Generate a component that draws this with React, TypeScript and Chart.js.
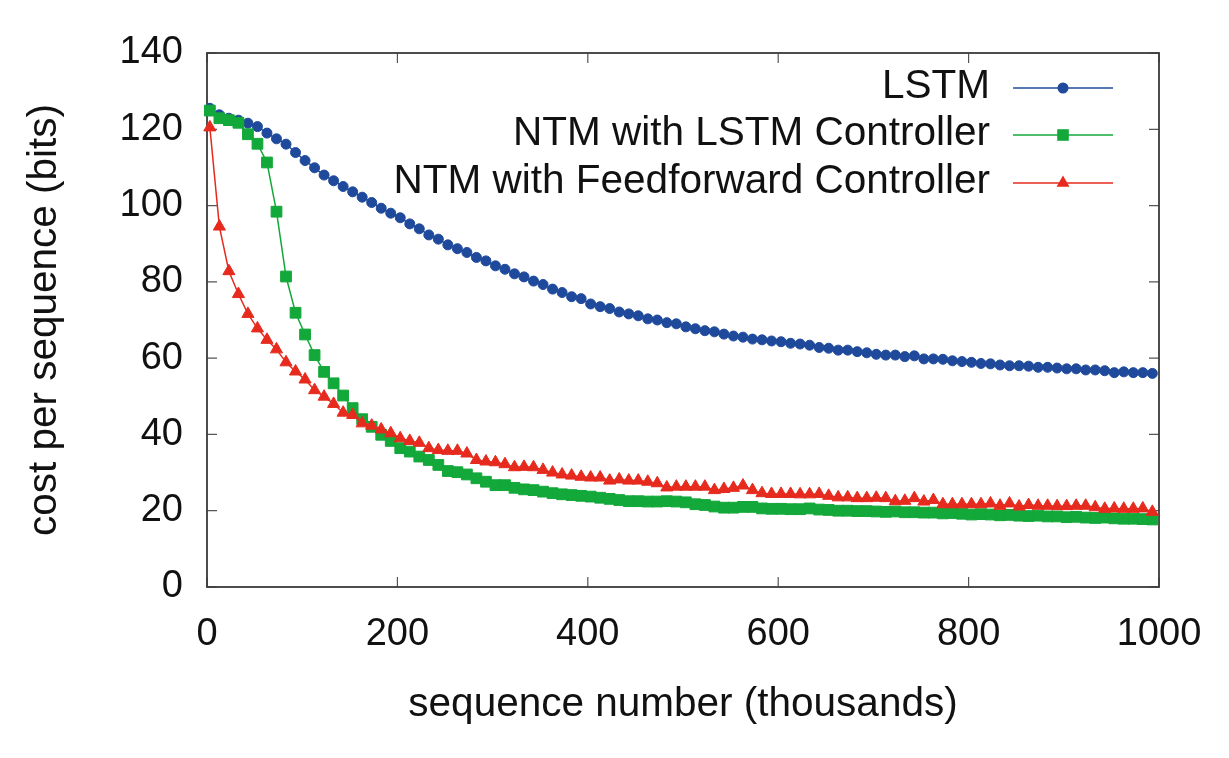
import React, { useEffect, useRef } from "react";
import { Chart, registerables } from "chart.js";

Chart.register(...registerables);

// sequence number (thousands) at which each point was sampled
const SEQ_THOUSANDS = [
  3, 13, 23, 33, 43, 53, 63, 73, 83, 93,
  103, 113, 123, 133, 143, 153, 163, 173, 183, 193,
  203, 213, 223, 233, 243, 253, 263, 273, 283, 293,
  303, 313, 323, 333, 343, 353, 363, 373, 383, 393,
  403, 413, 423, 433, 443, 453, 463, 473, 483, 493,
  503, 513, 523, 533, 543, 553, 563, 573, 583, 593,
  603, 613, 623, 633, 643, 653, 663, 673, 683, 693,
  703, 713, 723, 733, 743, 753, 763, 773, 783, 793,
  803, 813, 823, 833, 843, 853, 863, 873, 883, 893,
  903, 913, 923, 933, 943, 953, 963, 973, 983, 993,
];

const LSTM = [
  125.5, 123.8, 122.9, 122.4, 121.6, 120.7, 119.0, 117.5, 116.1, 113.9,
  111.8, 109.9, 108.0, 106.5, 105.0, 103.6, 102.2, 100.8, 99.3, 98.0,
  96.8, 95.2, 93.9, 92.3, 91.2, 89.7, 88.7, 87.7, 86.4, 85.5,
  84.2, 83.3, 82.1, 81.3, 80.2, 79.3, 78.1, 77.2, 76.1, 75.6,
  74.2, 73.5, 73.0, 72.1, 71.6, 71.1, 70.3, 70.0, 69.3, 69.0,
  68.2, 67.7, 67.2, 66.9, 66.3, 65.8, 65.5, 65.0, 64.8, 64.5,
  64.3, 63.9, 63.7, 63.4, 62.8, 62.6, 62.1, 62.1, 61.7, 61.4,
  61.0, 60.8, 60.8, 60.4, 60.6, 59.8, 59.8, 59.7, 59.3, 59.1,
  58.9, 58.6, 58.5, 58.2, 58.0, 58.0, 57.9, 57.6, 57.6, 57.4,
  57.2, 57.2, 56.9, 56.9, 56.7, 56.2, 56.4, 56.2, 56.2, 56.0,
];

const NTM_LSTM = [
  124.9, 122.9, 122.4, 121.7, 118.7, 116.2, 111.3, 98.4, 81.4, 71.9,
  66.2, 60.8, 56.4, 53.4, 50.2, 46.9, 44.0, 42.0, 39.9, 38.3,
  36.4, 35.5, 34.2, 33.3, 32.0, 30.4, 30.1, 29.5, 28.5, 27.6,
  26.7, 26.7, 26.0, 25.6, 25.4, 25.0, 24.6, 24.3, 24.1, 23.9,
  23.7, 23.4, 23.1, 22.8, 22.5, 22.5, 22.4, 22.4, 22.5, 22.4,
  22.2, 21.7, 21.5, 21.1, 20.8, 20.8, 21.0, 21.0, 20.6, 20.5,
  20.5, 20.4, 20.4, 20.6, 20.3, 20.2, 20.0, 20.0, 19.9, 19.9,
  19.8, 19.7, 19.8, 19.6, 19.6, 19.5, 19.5, 19.3, 19.4, 19.2,
  19.0, 19.1, 19.0, 18.8, 18.9, 18.7, 18.6, 18.7, 18.5, 18.5,
  18.3, 18.4, 18.2, 18.1, 18.2, 18.0, 17.9, 17.9, 17.8, 17.7,
];

const NTM_FF = [
  120.5, 94.5, 82.8, 76.8, 71.6, 67.8, 64.8, 62.3, 58.9, 56.5,
  54.4, 51.6, 49.9, 48.0, 45.7, 45.1, 42.9, 42.3, 41.3, 40.3,
  39.0, 38.3, 37.8, 36.4, 35.9, 35.7, 35.7, 35.0, 33.3, 32.9,
  32.7, 32.2, 31.4, 31.5, 31.4, 30.7, 30.0, 29.5, 29.2, 28.9,
  28.7, 28.7, 27.9, 28.2, 27.9, 27.9, 27.6, 27.2, 26.1, 26.3,
  26.3, 26.3, 26.3, 25.4, 25.7, 26.0, 26.6, 25.4, 24.6, 24.4,
  24.4, 24.4, 24.3, 24.3, 24.4, 23.9, 23.5, 23.5, 23.3, 23.3,
  23.4, 23.3, 22.5, 22.6, 23.3, 22.4, 22.8, 21.7, 21.7, 21.7,
  21.7, 21.7, 21.9, 21.3, 21.9, 21.1, 21.5, 21.3, 21.3, 21.2,
  21.2, 21.3, 21.3, 20.9, 20.5, 20.6, 20.5, 20.5, 20.6, 19.7,
];

const SERIES_LABELS = ["LSTM", "NTM with LSTM Controller", "NTM with Feedforward Controller"];
const X_TITLE = "sequence number (thousands)";
const Y_TITLE = "cost per sequence (bits)";

const BLUE = "#1f4a9c";
const GREEN = "#13a83a";
const RED = "#e62b1e";
const FONT = "'Liberation Sans', Arial, sans-serif";
const TEXT = "#111111";

function pts(vals: number[]) {
  return vals.map((v, i) => ({ x: SEQ_THOUSANDS[i], y: v }));
}

function drawMarker(ctx: CanvasRenderingContext2D, style: string, x: number, y: number, color: string) {
  ctx.save();
  ctx.fillStyle = color;
  ctx.beginPath();
  if (style === "circle") {
    ctx.arc(x, y, 5.5, 0, Math.PI * 2);
  } else if (style === "rect") {
    ctx.rect(x - 5.8, y - 5.8, 11.6, 11.6);
  } else {
    const r = 7.5;
    ctx.moveTo(x, y - r);
    ctx.lineTo(x + r * 0.866, y + r / 2);
    ctx.lineTo(x - r * 0.866, y + r / 2);
    ctx.closePath();
  }
  ctx.fill();
  ctx.restore();
}

const framePlugin = {
  id: "frame",
  beforeDatasetsDraw(chart: any) {
    const { ctx, chartArea: a, scales } = chart;
    ctx.save();
    ctx.strokeStyle = "#555555";
    ctx.lineWidth = 1.2;
    const tl = 10;
    ctx.beginPath();
    scales.x.ticks.forEach((t: any) => {
      const px = scales.x.getPixelForValue(t.value);
      ctx.moveTo(px, a.bottom);
      ctx.lineTo(px, a.bottom - tl);
      ctx.moveTo(px, a.top);
      ctx.lineTo(px, a.top + tl);
    });
    scales.y.ticks.forEach((t: any) => {
      const py = scales.y.getPixelForValue(t.value);
      ctx.moveTo(a.left, py);
      ctx.lineTo(a.left + tl, py);
      ctx.moveTo(a.right, py);
      ctx.lineTo(a.right - tl, py);
    });
    ctx.stroke();
    ctx.strokeStyle = "#3a3a3a";
    ctx.lineWidth = 1.8;
    ctx.strokeRect(a.left, a.top, a.right - a.left, a.bottom - a.top);
    ctx.restore();
  },
  afterDraw(chart: any) {
    const { ctx, chartArea: a } = chart;
    const styles = ["circle", "rect", "triangle"];
    const colors = [BLUE, GREEN, RED];
    const rows = [35, 82, 130];
    ctx.save();
    ctx.font = `40.5px ${FONT}`;
    ctx.textAlign = "right";
    ctx.textBaseline = "middle";
    SERIES_LABELS.forEach((label, i) => {
      const y = a.top + rows[i];
      ctx.fillStyle = TEXT;
      ctx.fillText(label, a.right - 169, y - 1);
      ctx.strokeStyle = colors[i];
      ctx.lineWidth = 1.6;
      ctx.beginPath();
      ctx.moveTo(a.right - 146, y);
      ctx.lineTo(a.right - 46, y);
      ctx.stroke();
      drawMarker(ctx, styles[i], a.right - 96, y, colors[i]);
    });
    ctx.restore();
  },
};

export default function App() {
  const ref = useRef<HTMLCanvasElement | null>(null);

  useEffect(() => {
    if (!ref.current) return;
    const chart = new Chart(ref.current, {
      type: "line",
      data: {
        datasets: [
          {
            label: SERIES_LABELS[0],
            data: pts(LSTM),
            borderColor: BLUE,
            backgroundColor: BLUE,
            pointBackgroundColor: BLUE,
            pointBorderColor: BLUE,
            pointStyle: "circle",
            pointRadius: 5,
            pointBorderWidth: 1,
            borderWidth: 1.5,
            tension: 0,
            order: 3,
            clip: false as any,
          },
          {
            label: SERIES_LABELS[1],
            data: pts(NTM_LSTM),
            borderColor: GREEN,
            backgroundColor: GREEN,
            pointBackgroundColor: GREEN,
            pointBorderColor: GREEN,
            pointStyle: "rect",
            pointRadius: 7.6,
            pointBorderWidth: 1,
            borderWidth: 1.5,
            tension: 0,
            order: 2,
            clip: false as any,
          },
          {
            label: SERIES_LABELS[2],
            data: pts(NTM_FF),
            borderColor: RED,
            backgroundColor: RED,
            pointBackgroundColor: RED,
            pointBorderColor: RED,
            pointStyle: "triangle",
            pointRadius: 7,
            pointBorderWidth: 1,
            borderWidth: 1.5,
            tension: 0,
            order: 1,
            clip: false as any,
          },
        ],
      },
      options: {
        animation: false,
        responsive: true,
        maintainAspectRatio: false,
        layout: { padding: { left: 0, right: 70, top: 53, bottom: 0 } },
        plugins: {
          legend: { display: false },
          tooltip: { enabled: false },
        },
        scales: {
          x: {
            type: "linear",
            min: 0,
            max: 1000,
            ticks: {
              stepSize: 200,
              padding: 17,
              color: TEXT,
              font: { family: FONT, size: 38 },
              maxRotation: 0,
              callback: (v: any) => String(v),
            },
            grid: { display: false },
            border: { display: false },
            title: {
              display: true,
              text: X_TITLE,
              color: TEXT,
              font: { family: FONT, size: 40.5 },
              padding: { top: 0, bottom: 29 },
            },
            afterFit: (s: any) => {
              s.height = 171;
            },
          },
          y: {
            type: "linear",
            min: 0,
            max: 140,
            ticks: {
              stepSize: 20,
              padding: 16,
              color: TEXT,
              font: { family: FONT, size: 38 },
              callback: (v: any) => String(v),
            },
            grid: { display: false },
            border: { display: false },
            title: {
              display: true,
              text: Y_TITLE,
              color: TEXT,
              font: { family: FONT, size: 40.5 },
              padding: { top: 21, bottom: 0 },
            },
            afterFit: (s: any) => {
              s.width = 207;
            },
          },
        },
      },
      plugins: [framePlugin],
    });
    return () => chart.destroy();
  }, []);

  return (
    <div style={{ position: "absolute", left: 0, top: 0, width: 1229, height: 758, background: "#ffffff" }}>
      <canvas ref={ref} />
    </div>
  );
}
